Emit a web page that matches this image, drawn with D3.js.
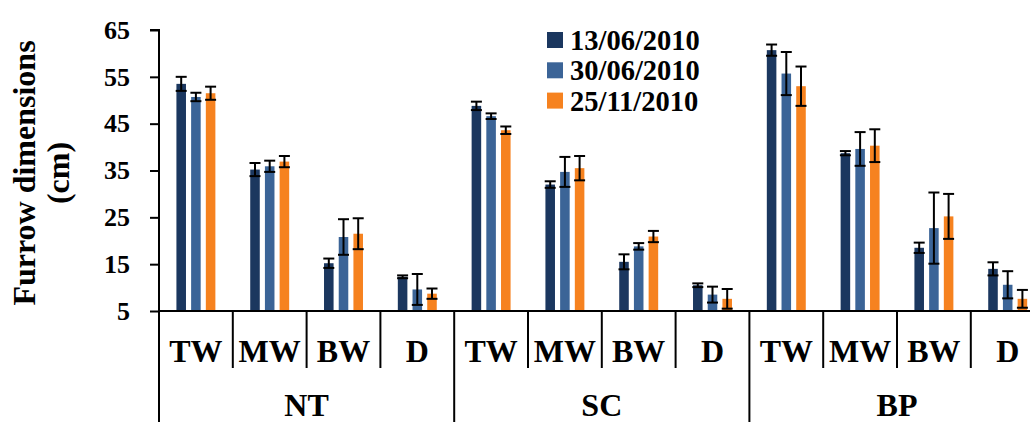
<!DOCTYPE html>
<html>
<head>
<meta charset="utf-8">
<script src="https://cdn.jsdelivr.net/npm/d3@7"></script>
<style>
  body { margin: 0; background: #fff; }
  svg { display: block; }
</style>
</head>
<body>
<svg></svg>
<script>
const width = 1030;
const height = 422;
const serif = "Liberation Serif";

// categories
const groups = ["NT", "SC", "BP"];
const parts = ["TW", "MW", "BW", "D"];
const series = ["13/06/2010", "30/06/2010", "25/11/2010"];
const yTicks = [5, 15, 25, 35, 45, 55, 65];

// means, one value per group/part (NT TW..D, SC TW..D, BP TW..D)
const jun13 = [53.5, 35.2, 15.2, 12.3, 48.8, 32.0, 15.5, 10.5, 60.7, 38.7, 18.5, 14.0];
const jun30 = [50.7, 35.9, 20.8, 9.6, 46.6, 34.7, 18.8, 8.5, 55.7, 39.6, 22.7, 10.6];
const nov25 = [51.5, 36.9, 21.5, 8.7, 43.6, 35.5, 20.9, 7.6, 53.0, 40.3, 25.2, 7.6];

// error bar half-lengths
const jun13Err = [1.5, 1.4, 1.0, 0.3, 0.9, 0.7, 1.6, 0.4, 1.2, 0.45, 1.1, 1.4];
const jun30Err = [0.9, 1.2, 3.8, 3.3, 0.6, 3.2, 0.7, 1.7, 4.6, 3.6, 7.6, 2.9];
const nov25Err = [1.4, 1.2, 3.3, 1.1, 0.8, 2.6, 1.2, 2.1, 4.2, 3.5, 4.8, 1.9];

const colors = ["#1b375f", "#3b6497", "#f6821f"];

const svg = d3.select("svg")
  .attr("width", width)
  .attr("height", height);

const margin = { left: 159, top: 30, bottom: 311 };
const catWidth = 73.8;

const cats = [];
groups.forEach(g => parts.forEach(p => cats.push(g + "-" + p)));

const x0 = d3.scaleBand()
  .domain(cats)
  .range([margin.left, margin.left + catWidth * cats.length]);

const x1 = d3.scaleBand()
  .domain(series)
  .range([0, x0.bandwidth()])
  .paddingInner(0.35)
  .paddingOuter(1.185);

const y = d3.scaleLinear()
  .domain([5, 65])
  .range([margin.bottom, margin.top]);

const allVals = [jun13, jun30, nov25];
const allErr = [jun13Err, jun30Err, nov25Err];

const rows = [];
cats.forEach((c, i) => {
  series.forEach((s, j) => {
    rows.push({ cat: c, s: s, j: j, v: allVals[j][i], e: allErr[j][i] });
  });
});

// bars
svg.append("g")
  .selectAll("rect")
  .data(rows)
  .enter()
  .append("rect")
  .attr("x", d => x0(d.cat) + x1(d.s))
  .attr("y", d => y(d.v))
  .attr("width", x1.bandwidth())
  .attr("height", d => y(5) - y(d.v))
  .attr("fill", d => colors[d.j]);

// error bars
const capW = 11;
const err = svg.append("g")
  .attr("stroke", "#000")
  .attr("stroke-width", 2);

rows.forEach(d => {
  const cx = x0(d.cat) + x1(d.s) + x1.bandwidth() / 2;
  const hi = y(d.v + d.e);
  const lo = y(d.v - d.e);
  err.append("line").attr("x1", cx).attr("x2", cx).attr("y1", hi).attr("y2", lo);
  err.append("line").attr("x1", cx - capW / 2).attr("x2", cx + capW / 2).attr("y1", hi).attr("y2", hi);
  err.append("line").attr("x1", cx - capW / 2).attr("x2", cx + capW / 2).attr("y1", lo).attr("y2", lo);
});

// y axis
const yAxis = svg.append("g")
  .attr("transform", `translate(${margin.left},0)`)
  .call(d3.axisLeft(y).tickValues(yTicks).tickSize(9).tickPadding(20));

yAxis.select(".domain").attr("stroke-width", 2).attr("d", `M-9,${y(65)}H0V${y(5)}`);
yAxis.selectAll(".tick line").attr("stroke-width", 2);
yAxis.selectAll(".tick text")
  .attr("font-family", serif)
  .attr("font-weight", "bold")
  .attr("font-size", 26)
  .attr("fill", "#000");

// x axis line
svg.append("line")
  .attr("x1", margin.left).attr("x2", width)
  .attr("y1", margin.bottom).attr("y2", margin.bottom)
  .attr("stroke", "#000").attr("stroke-width", 2);

// category separators and labels
const xg = svg.append("g");
cats.forEach((c, i) => {
  const xl = x0(c);
  const major = i % parts.length === 0;
  xg.append("line")
    .attr("x1", xl).attr("x2", xl)
    .attr("y1", margin.bottom).attr("y2", major ? height : 368)
    .attr("stroke", "#000").attr("stroke-width", 2);
  xg.append("text")
    .attr("x", xl + x0.bandwidth() / 2)
    .attr("y", 362)
    .attr("text-anchor", "middle")
    .attr("font-family", serif)
    .attr("font-weight", "bold")
    .attr("font-size", 32)
    .text(parts[i % parts.length]);
});

groups.forEach((g, i) => {
  const first = x0(g + "-" + parts[0]);
  const last = x0(g + "-" + parts[parts.length - 1]) + x0.bandwidth();
  xg.append("text")
    .attr("x", (first + last) / 2)
    .attr("y", 416)
    .attr("text-anchor", "middle")
    .attr("font-family", serif)
    .attr("font-weight", "bold")
    .attr("font-size", 32)
    .text(g);
});

// y title
const title = svg.append("text")
  .attr("transform", "translate(35,173) rotate(-90)")
  .attr("text-anchor", "middle")
  .attr("font-family", serif)
  .attr("font-weight", "bold")
  .attr("font-size", 32);
title.append("tspan").attr("x", 0).attr("y", 0).text("Furrow dimensions");
title.append("tspan").attr("x", 0).attr("y", 34).text("(cm)");

// legend
const legend = svg.append("g");
series.forEach((s, j) => {
  const ly = 40 + j * 30.3;
  legend.append("rect")
    .attr("x", 547).attr("y", ly - 8)
    .attr("width", 16).attr("height", 16)
    .attr("fill", colors[j]);
  legend.append("text")
    .attr("x", 570).attr("y", ly)
    .attr("dy", "0.35em")
    .attr("font-family", serif)
    .attr("font-weight", "bold")
    .attr("font-size", 28.5)
    .text(s);
});
</script>
</body>
</html>
